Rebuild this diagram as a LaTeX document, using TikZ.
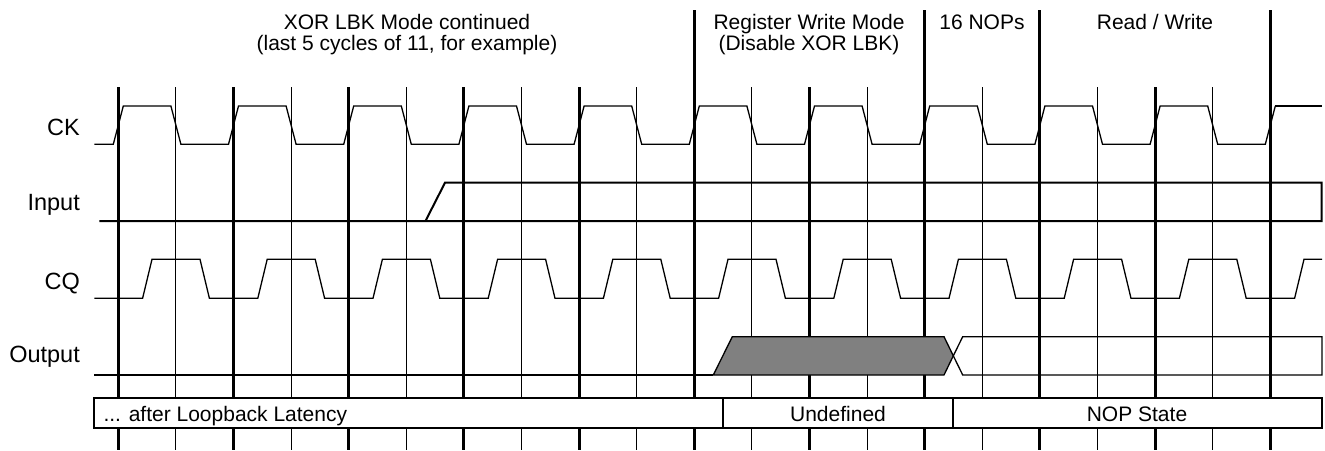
\documentclass[tikz,border=0pt]{standalone}
\usepackage{fontspec}
\setmainfont{Liberation Sans}
\definecolor{busgray}{HTML}{808080}
\begin{document}
\begin{tikzpicture}[x=1pt,y=-1pt,
  gridthick/.style={line width=3pt},
  gridthin/.style={line width=1pt},
  sig/.style={line width=1.3pt, line join=miter},
  bus/.style={line width=2pt, line join=miter},
  lbltxt/.style={inner sep=0pt, font=\fontsize{21}{21}\selectfont},
  signame/.style={inner sep=0pt, font=\fontsize{23.5}{23.5}\selectfont, anchor=base east},
  headtxt/.style={lbltxt, anchor=base}]
\useasboundingbox (0,0) rectangle (1325,450);
% grid lines
\foreach \i in {0,...,10} {
  \pgfmathsetmacro{\gx}{118.3+115.2*\i}
  \draw[gridthick] (\gx,87) -- (\gx,450);
}
\foreach \i in {5,7,8,10} {
  \pgfmathsetmacro{\gx}{118.3+115.2*\i}
  \draw[gridthick] (\gx,10) -- (\gx,87);
}
\foreach \i in {0,...,9} {
  \pgfmathsetmacro{\gx}{175.9+115.2*\i}
  \draw[gridthin] (\gx,87) -- (\gx,450);
}
% CK
\draw[sig] (94.3,144.3) \foreach \i in {0,...,9} {
  -- ({118.3+115.2*\i-5},144.3) -- ({118.3+115.2*\i+5},106)
  -- ({175.9+115.2*\i-5},106) -- ({175.9+115.2*\i+5},144.3) }
  -- (1265.3,144.3) -- (1275.3,106);
\draw[bus] (1275.3,106) -- (1322,106);
% Input
\draw[bus] (99.3,221) -- (1321.7,221) -- (1321.7,182.7) -- (445,182.7) -- (425.5,221);
% CQ
\draw[sig] (94.3,298.3) \foreach \i in {0,...,9} {
  -- ({147.3+115.2*\i-4.7},298.3) -- ({147.3+115.2*\i+4.7},259.3)
  -- ({204.7+115.2*\i-4.7},259.3) -- ({204.7+115.2*\i+4.7},298.3) }
  -- (1294.6,298.3) -- (1304,259.3) -- (1322,259.3);
% Output
\draw[sig] (94.3,375) -- (713.3,375);
\draw[sig, fill=busgray] (713.3,375) -- (732.3,336.7) -- (944,336.7) -- (953.3,355.8) -- (944,375) -- cycle;
\draw[sig] (953.3,355.8) -- (962.7,336.7) -- (1322,336.7) -- (1322,375) -- (962.7,375) -- cycle;
% bottom state bar
\draw[bus, fill=white] (94.3,398.3) rectangle (1321.7,428.3);
\draw[bus] (723.3,398.3) -- (723.3,428.3);
\draw[bus] (952.7,398.3) -- (952.7,428.3);
\node[lbltxt, anchor=base west] (s1) at (103.3,421) {... after Loopback Latency};
\node[headtxt] (s2) at (838,421) {Undefined};
\node[headtxt] (s3) at (1137,421) {NOP State};
% signal names
\node[signame] (nck) at (80,135) {CK};
\node[signame] (nin) at (80,210.7) {Input};
\node[signame] (ncq) at (80,289) {CQ};
\node[signame] (nout) at (80,362.7) {Output};
% headings
\node[headtxt] (h1a) at (407,29.3) {XOR LBK Mode continued};
\node[headtxt] (h1b) at (407,50) {(last 5 cycles of 11, for example)};
\node[headtxt] (h2a) at (809,29.3) {Register Write Mode};
\node[headtxt] (h2b) at (809,50) {(Disable XOR LBK)};
\node[headtxt] (h3) at (982,29.3) {16 NOPs};
\node[headtxt] (h4) at (1155,29.3) {Read / Write};
\end{tikzpicture}
\end{document}
